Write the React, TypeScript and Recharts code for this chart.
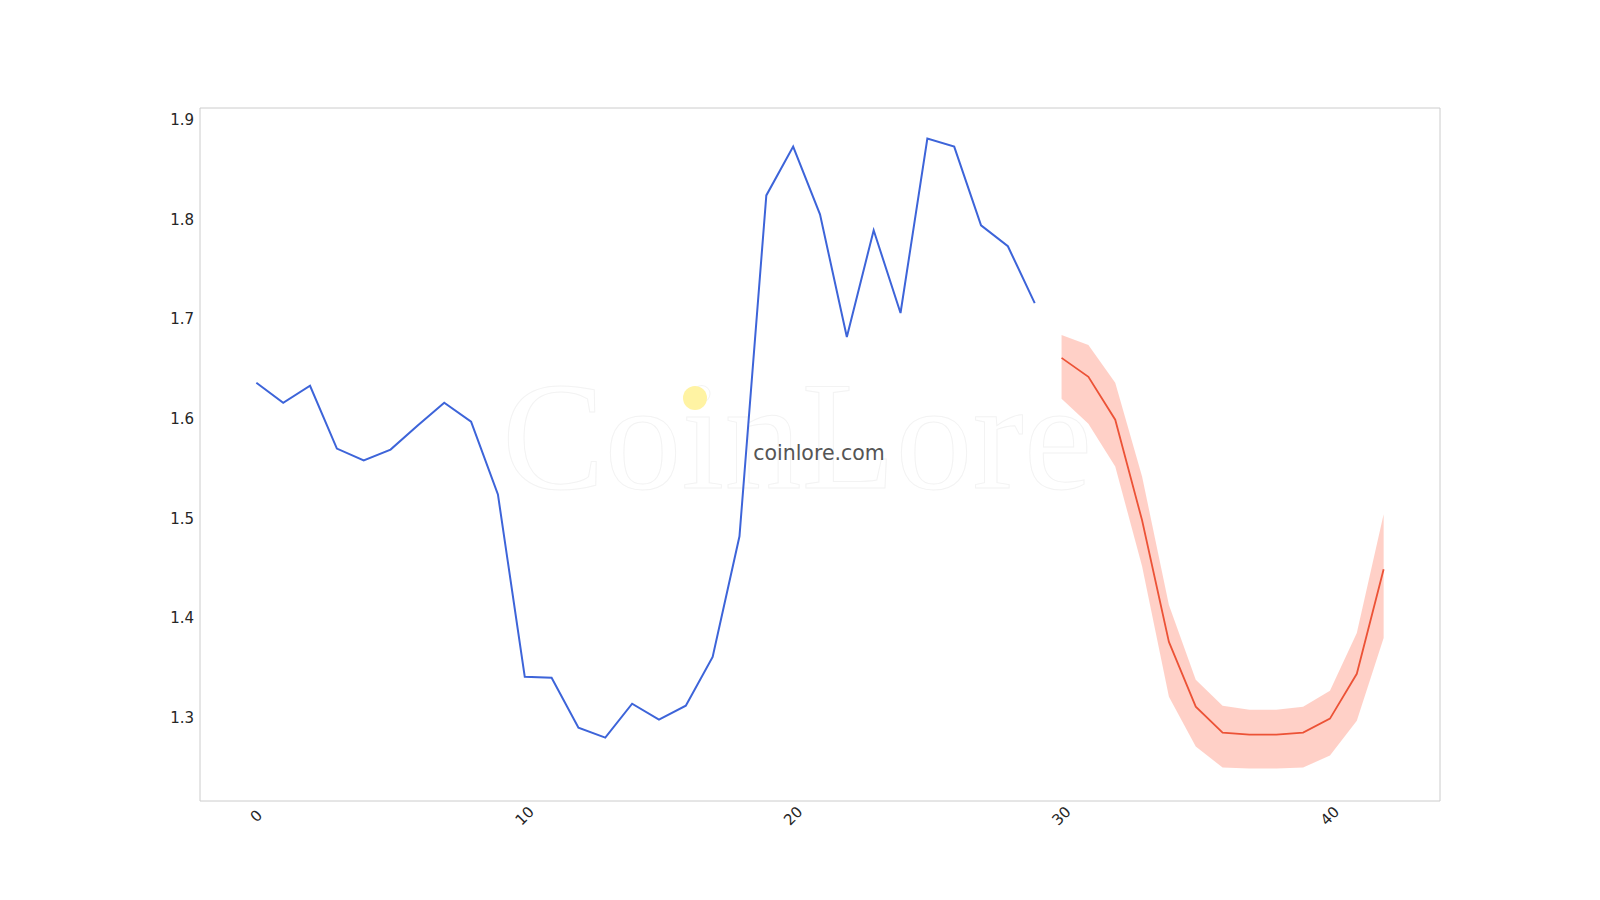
import React from 'react';
import { ComposedChart, Line, Area, XAxis, YAxis, ReferenceArea } from 'recharts';

// observed price, index 0..29
const history = [
  1.636, 1.616, 1.633, 1.570, 1.558, 1.569, 1.593, 1.616, 1.597, 1.524,
  1.341, 1.340, 1.290, 1.280, 1.314, 1.298, 1.312, 1.361, 1.482, 1.824,
  1.873, 1.805, 1.682, 1.789, 1.706, 1.881, 1.873, 1.794, 1.773, 1.716,
];

// forecast, index 30..42
const forecastStart = 30;
const forecastMean = [1.661, 1.642, 1.599, 1.498, 1.376, 1.311, 1.285, 1.283, 1.283, 1.285, 1.299, 1.344, 1.449];
const forecastHigh = [1.684, 1.674, 1.636, 1.542, 1.413, 1.338, 1.312, 1.308, 1.308, 1.311, 1.327, 1.385, 1.504];
const forecastLow = [1.620, 1.595, 1.552, 1.452, 1.321, 1.271, 1.250, 1.249, 1.249, 1.250, 1.262, 1.297, 1.380];

const xTicks = [0, 10, 20, 30, 40];
const yTicks = [1.3, 1.4, 1.5, 1.6, 1.7, 1.8, 1.9];
const xDomain: [number, number] = [-2.1, 44.1];
const yDomain: [number, number] = [1.2164, 1.9117];

type Row = { x: number; price?: number; mean?: number; band?: [number, number] };

const data: Row[] = [];
history.forEach((v, i) => data.push({ x: i, price: v }));
forecastMean.forEach((v, i) => {
  data.push({ x: forecastStart + i, mean: v, band: [forecastLow[i], forecastHigh[i]] });
});

const FONT = '"DejaVu Sans", sans-serif';

function XTick(props: any) {
  const { x, y, payload } = props;
  const cy = y + 15;
  return (
    <text
      x={x}
      y={cy}
      transform={`rotate(-45, ${x}, ${cy})`}
      textAnchor="middle"
      dominantBaseline="central"
      fontFamily={FONT}
      fontSize={15}
      fill="#262626"
    >
      {payload.value}
    </text>
  );
}

export default function App() {
  return (
    <div style={{ position: 'absolute', left: 0, top: 0, width: 1600, height: 900, background: '#fff' }}>
      {/* watermark */}
      <svg width={1600} height={900} style={{ position: 'absolute', left: 0, top: 0 }}>
        <text
          x={797}
          y={488}
          textAnchor="middle"
          fontFamily='"Liberation Serif", serif'
          fontSize={154}
          fill="#fff"
          stroke="#f3f3f3"
          strokeWidth={1}
        >
          CoinLore
        </text>
      </svg>
      <div style={{ position: 'absolute', left: 0, top: 0 }}>
        <ComposedChart
          width={1600}
          height={900}
          data={data}
          margin={{ top: 108, right: 160, bottom: 59, left: 140 }}
        >
          <XAxis
            dataKey="x"
            type="number"
            domain={xDomain}
            ticks={xTicks}
            allowDataOverflow
            axisLine={false}
            tickLine={false}
            tickSize={0}
            tickMargin={0}
            height={40}
            tick={<XTick />}
          />
          <YAxis
            type="number"
            domain={yDomain}
            ticks={yTicks}
            allowDataOverflow
            axisLine={false}
            tickLine={false}
            tickSize={0}
            tickMargin={6}
            width={60}
            tickFormatter={(v: number) => v.toFixed(1)}
            tick={{ fontFamily: FONT, fontSize: 15, fill: '#262626' }}
          />
          <ReferenceArea
            x1={xDomain[0]}
            x2={xDomain[1]}
            y1={yDomain[0]}
            y2={yDomain[1]}
            fill="none"
            stroke="#cccccc"
            strokeWidth={1}
            ifOverflow="visible"
          />
          <Area
            dataKey="band"
            type="linear"
            stroke="none"
            fill="#ff6347"
            fillOpacity={0.3}
            isAnimationActive={false}
            connectNulls={false}
            dot={false}
            activeDot={false}
          />
          <Line
            dataKey="price"
            type="linear"
            stroke="#3d64d9"
            strokeWidth={2}
            dot={false}
            activeDot={false}
            isAnimationActive={false}
          />
          <Line
            dataKey="mean"
            type="linear"
            stroke="#ec5236"
            strokeWidth={1.8}
            dot={false}
            activeDot={false}
            isAnimationActive={false}
          />
        </ComposedChart>
      </div>
      <svg width={1600} height={900} style={{ position: 'absolute', left: 0, top: 0, pointerEvents: 'none' }}>
        <circle cx={695} cy={398} r={12} fill="#fff3a3" />
        <text x={819} y={460} textAnchor="middle" fontFamily={FONT} fontSize={20.5} fill="#555555">
          coinlore.com
        </text>
      </svg>
    </div>
  );
}
